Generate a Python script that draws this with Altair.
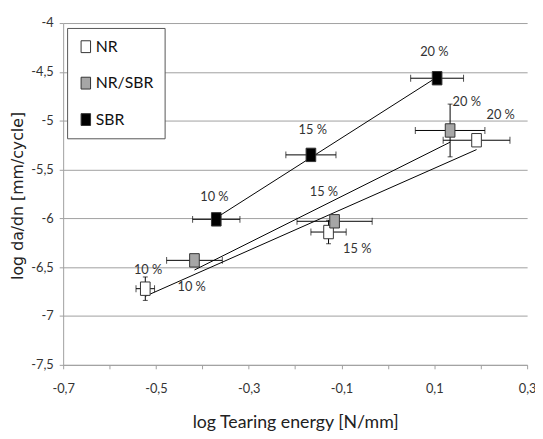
import altair as alt
import pandas as pd

# ---- data ----
materials = ["NR", "NR", "NR", "NR/SBR", "NR/SBR", "NR/SBR", "SBR", "SBR", "SBR"]
strain = ["10 %", "15 %", "20 %", "10 %", "15 %", "20 %", "10 %", "15 %", "20 %"]
log_energy = [-0.523, -0.128, 0.191, -0.417, -0.115, 0.134, -0.370, -0.166, 0.106]
log_rate = [-6.72, -6.14, -5.20, -6.43, -6.03, -5.10, -6.01, -5.35, -4.565]
energy_err = [0.020, 0.038, 0.072, 0.060, 0.081, 0.075, 0.051, 0.054, 0.057]
rate_err = [0.12, 0.12, 0.0, 0.0, 0.0, 0.27, 0.0, 0.0, 0.0]
label_x = [-0.517, -0.066, 0.243, -0.423, -0.138, 0.170, -0.374, -0.162, 0.100]
label_y = [-6.53, -6.31, -4.94, -6.70, -5.735, -4.807, -5.785, -5.10, -4.30]

legend_order = ["NR", "NR/SBR", "SBR"]
fill_colors = ["#ffffff", "#a6a6a6", "#000000"]

x_ticks = [-0.7, -0.6, -0.5, -0.4, -0.3, -0.2, -0.1, 0.0, 0.1, 0.2, 0.3]
y_ticks = [-7.5, -7.25, -7.0, -6.75, -6.5, -6.25, -6.0, -5.75, -5.5, -5.25,
           -5.0, -4.75, -4.5, -4.25, -4.0]

df = pd.DataFrame({
    "material": materials,
    "strain": strain,
    "x": log_energy,
    "y": log_rate,
    "xerr": energy_err,
    "yerr": rate_err,
    "lx": label_x,
    "ly": label_y,
})
df["xlo"] = df["x"] - df["xerr"]
df["xhi"] = df["x"] + df["xerr"]
df["ylo"] = df["y"] - df["yerr"]
df["yhi"] = df["y"] + df["yerr"]

FONT = "Lato"
MARKER = "M-0.72,-1L0.72,-1L0.72,1L-0.72,1Z"
LEG_SYM = "M-0.8,-1L0.8,-1L0.8,1L-0.8,1Z"

xscale = alt.Scale(domain=[-0.7, 0.3], nice=False, zero=False)
yscale = alt.Scale(domain=[-7.5, -4.0], nice=False, zero=False)

xaxis = alt.Axis(
    values=x_ticks,
    labelExpr="abs(round(datum.value*10)) % 2 == 1 ? replace(toString(round(datum.value*10)/10), '.', ',') : ''",
    grid=False, tickSize=4, labelPadding=14, labelOverlap=False, labelFlush=False,
    labelFont=FONT, labelFontSize=13, labelColor="#333333",
    domainColor="#a0a0a0", tickColor="#a0a0a0",
    title="log Tearing energy [N/mm]", titleFont=FONT, titleFontSize=18,
    titleFontWeight="normal", titleColor="#222222",
    titleX=235.5, titleY=50, titleBaseline="top", titleAlign="center",
)
yaxis = alt.Axis(
    values=y_ticks,
    labelExpr="(datum.value*2) % 1 == 0 ? replace(toString(datum.value), '.', ',') : ''",
    grid=True, gridColor="#a0a0a0", gridWidth=1,
    gridOpacity={"condition": {"test": "(datum.value*2) % 1 == 0", "value": 1}, "value": 0},
    tickSize=4, labelPadding=6, labelOverlap=False, labelFlush=False,
    labelFont=FONT, labelFontSize=13, labelColor="#333333",
    domainColor="#a0a0a0", tickColor="#a0a0a0",
    title="log da/dn [mm/cycle]", titleFont="DejaVu Sans", titleFontSize=16,
    titleFontWeight="normal", titleColor="#222222",
    titleX=-38, titleY=175, titleAngle=-90, titleBaseline="bottom", titleAlign="center",
)

base = alt.Chart(df)

trend = base.transform_regression(
    "x", "y", groupby=["material"]
).mark_line(color="#000000", strokeWidth=1).encode(
    x=alt.X("x:Q", scale=xscale, axis=xaxis),
    y=alt.Y("y:Q", scale=yscale, axis=yaxis),
    detail="material:N",
)

xbars = base.mark_rule(color="#000000", strokeWidth=1).encode(
    x="xlo:Q", x2="xhi:Q", y="y:Q"
)
xcap_lo = base.mark_tick(orient="vertical", size=7, thickness=1, color="#000000").encode(
    x="xlo:Q", y="y:Q"
)
xcap_hi = base.mark_tick(orient="vertical", size=7, thickness=1, color="#000000").encode(
    x="xhi:Q", y="y:Q"
)
ybars = base.transform_filter("datum.yerr > 0").mark_rule(color="#000000", strokeWidth=1).encode(
    x="x:Q", y="ylo:Q", y2="yhi:Q"
)
ycap_lo = base.transform_filter("datum.yerr > 0").mark_tick(
    orient="horizontal", size=5, thickness=1, color="#000000"
).encode(x="x:Q", y="ylo:Q")
ycap_hi = base.transform_filter("datum.yerr > 0").mark_tick(
    orient="horizontal", size=5, thickness=1, color="#000000"
).encode(x="x:Q", y="yhi:Q")

points = base.mark_point(
    shape=MARKER, size=185, filled=True, stroke="#333333", strokeWidth=1, opacity=1
).encode(
    x="x:Q", y="y:Q",
    fill=alt.Fill(
        "material:N",
        scale=alt.Scale(domain=legend_order, range=fill_colors),
        legend=alt.Legend(
            title=None, orient="none", legendX=4, legendY=5,
            symbolType=LEG_SYM, symbolSize=144, symbolStrokeColor="#333333",
            symbolStrokeWidth=1, labelFont=FONT, labelFontSize=16,
            labelColor="#111111", labelOffset=2, rowPadding=21, padding=11,
            strokeColor="#555555", fillColor="#ffffff",
        ),
    ),
)

labels = base.mark_text(
    font=FONT, fontSize=13, color="#333333", align="center", baseline="middle"
).encode(x="lx:Q", y="ly:Q", text="strain:N")

chart = alt.layer(
    trend, xbars, xcap_lo, xcap_hi, ybars, ycap_lo, ycap_hi, points, labels
).properties(
    width=471, height=347,
    autosize="none",
    padding={"left": 56, "top": 12, "right": 8, "bottom": 72},
).configure_view(stroke=None)

chart.save("out.html", embed_options={"renderer": "svg", "actions": False})
